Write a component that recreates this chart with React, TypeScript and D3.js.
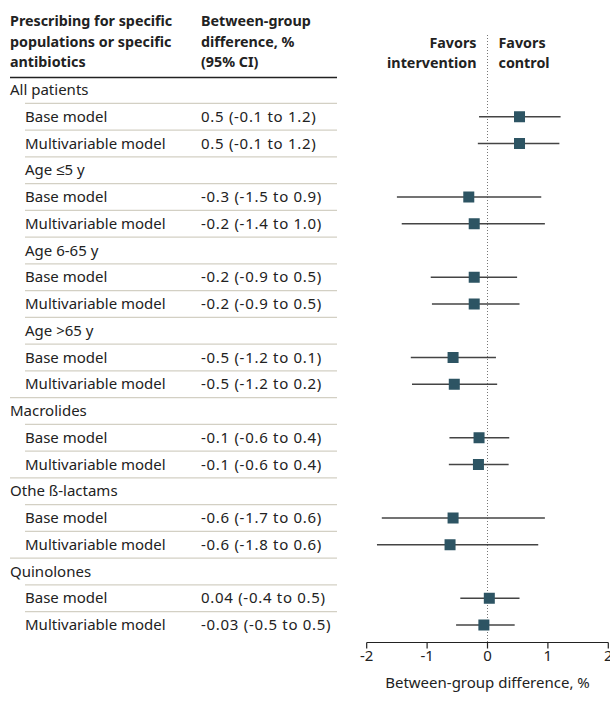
import React from "react";
import * as d3 from "d3";

// rows of the table, top to bottom
const rowLabels = [
  "All patients", "Base model", "Multivariable model",
  "Age ≤5 y", "Base model", "Multivariable model",
  "Age 6-65 y", "Base model", "Multivariable model",
  "Age >65 y", "Base model", "Multivariable model",
  "Macrolides", "Base model", "Multivariable model",
  "Othe ß-lactams", "Base model", "Multivariable model",
  "Quinolones", "Base model", "Multivariable model",
];
// 0 = top level heading, 1 = nested row
const rowLevels = [0, 1, 1, 1, 1, 1, 1, 1, 1, 1, 1, 1, 0, 1, 1, 0, 1, 1, 0, 1, 1];
const ciLabels = [
  "", "0.5 (-0.1 to 1.2)", "0.5 (-0.1 to 1.2)",
  "", "-0.3 (-1.5 to 0.9)", "-0.2 (-1.4 to 1.0)",
  "", "-0.2 (-0.9 to 0.5)", "-0.2 (-0.9 to 0.5)",
  "", "-0.5 (-1.2 to 0.1)", "-0.5 (-1.2 to 0.2)",
  "", "-0.1 (-0.6 to 0.4)", "-0.1 (-0.6 to 0.4)",
  "", "-0.6 (-1.7 to 0.6)", "-0.6 (-1.8 to 0.6)",
  "", "0.04 (-0.4 to 0.5)", "-0.03 (-0.5 to 0.5)",
];
// point estimates and CI bounds as drawn
const estimates = [null, 0.53, 0.53, null, -0.31, -0.22, null, -0.22, -0.22, null, -0.57, -0.55, null, -0.14, -0.15, null, -0.57, -0.62, null, 0.03, -0.06];
const lowers = [null, -0.14, -0.16, null, -1.5, -1.42, null, -0.94, -0.92, null, -1.27, -1.25, null, -0.63, -0.64, null, -1.75, -1.83, null, -0.45, -0.52];
const uppers = [null, 1.21, 1.19, null, 0.89, 0.95, null, 0.49, 0.53, null, 0.14, 0.16, null, 0.36, 0.35, null, 0.95, 0.84, null, 0.53, 0.45];
const xTicks = [-2, -1, 0, 1, 2];

const font = "'Noto Sans', sans-serif";
const ink = "#222";

export default function App() {
  const width = 610;
  const height = 706;
  const x = d3.scaleLinear().domain([-2, 2]).range([366.7, 608.3]);
  const y = d3.scalePoint<number>().domain(d3.range(rowLabels.length)).range([90, 625]);
  const step = y.step();
  const axisY = 642.5;
  const fs = 15;

  return (
    <svg
      width={width}
      height={height}
      style={{ position: "absolute", left: 0, top: 0, background: "#fff" }}
      fontFamily={font}
      fontSize={fs}
      fill={ink}
    >
      {/* column headers */}
      <g fontWeight="bold" fontSize={14.3}>
        {["Prescribing for specific", "populations or specific", "antibiotics"].map((t, i) => (
          <text key={"h1" + i} x={10} y={26 + i * 20.5}>{t}</text>
        ))}
        {["Between-group", "difference, %", "(95% CI)"].map((t, i) => (
          <text key={"h2" + i} x={201} y={26 + i * 20.5}>{t}</text>
        ))}
        <text x={x(0) - 11} y={48} textAnchor="end">Favors</text>
        <text x={x(0) - 11} y={68} textAnchor="end">intervention</text>
        <text x={x(0) + 11} y={48}>Favors</text>
        <text x={x(0) + 11} y={68}>control</text>
      </g>
      <line x1={10} x2={337} y1={77.5} y2={77.5} stroke={ink} strokeWidth={1.4} />

      {/* row separators */}
      {rowLabels.map((_, i) =>
        i === 0 ? null : (
          <line
            key={"sep" + i}
            x1={rowLevels[i] === 0 ? 10 : 25}
            x2={337}
            y1={y(i)! - step / 2}
            y2={y(i)! - step / 2}
            stroke="#d3d0c4"
            strokeWidth={1.2}
          />
        )
      )}

      {/* row labels */}
      {rowLabels.map((t, i) => (
        <text key={"lab" + i} x={rowLevels[i] === 0 ? 10 : 25} y={y(i)! + 5}>{t}</text>
      ))}
      {ciLabels.map((t, i) => (
        <text key={"ci" + i} x={201} y={y(i)! + 5} letterSpacing={0.7}>{t}</text>
      ))}

      {/* zero reference */}
      <line x1={x(0)} x2={x(0)} y1={35} y2={axisY} stroke="#777" strokeWidth={1} strokeDasharray="1,2" />

      {/* estimates */}
      {estimates.map((e, i) =>
        e === null ? null : (
          <g key={"pt" + i}>
            <line x1={x(lowers[i]!)} x2={x(uppers[i]!)} y1={y(i)} y2={y(i)} stroke="#444" strokeWidth={1.5} />
            <rect x={x(e) - 5.5} y={y(i)! - 5.5} width={11} height={11} fill="#2d5463" />
          </g>
        )
      )}

      {/* x axis */}
      <line x1={x(-2)} x2={x(2)} y1={axisY} y2={axisY} stroke={ink} strokeWidth={1.2} />
      {xTicks.map((t) => (
        <g key={"t" + t}>
          <line x1={x(t)} x2={x(t)} y1={axisY} y2={axisY + 6} stroke={ink} strokeWidth={1.2} />
          <text x={x(t)} y={axisY + 18} textAnchor="middle">{t < 0 ? "-" + Math.abs(t) : t}</text>
        </g>
      ))}
      <text x={x(0)} y={688} textAnchor="middle">Between-group difference, %</text>
    </svg>
  );
}
